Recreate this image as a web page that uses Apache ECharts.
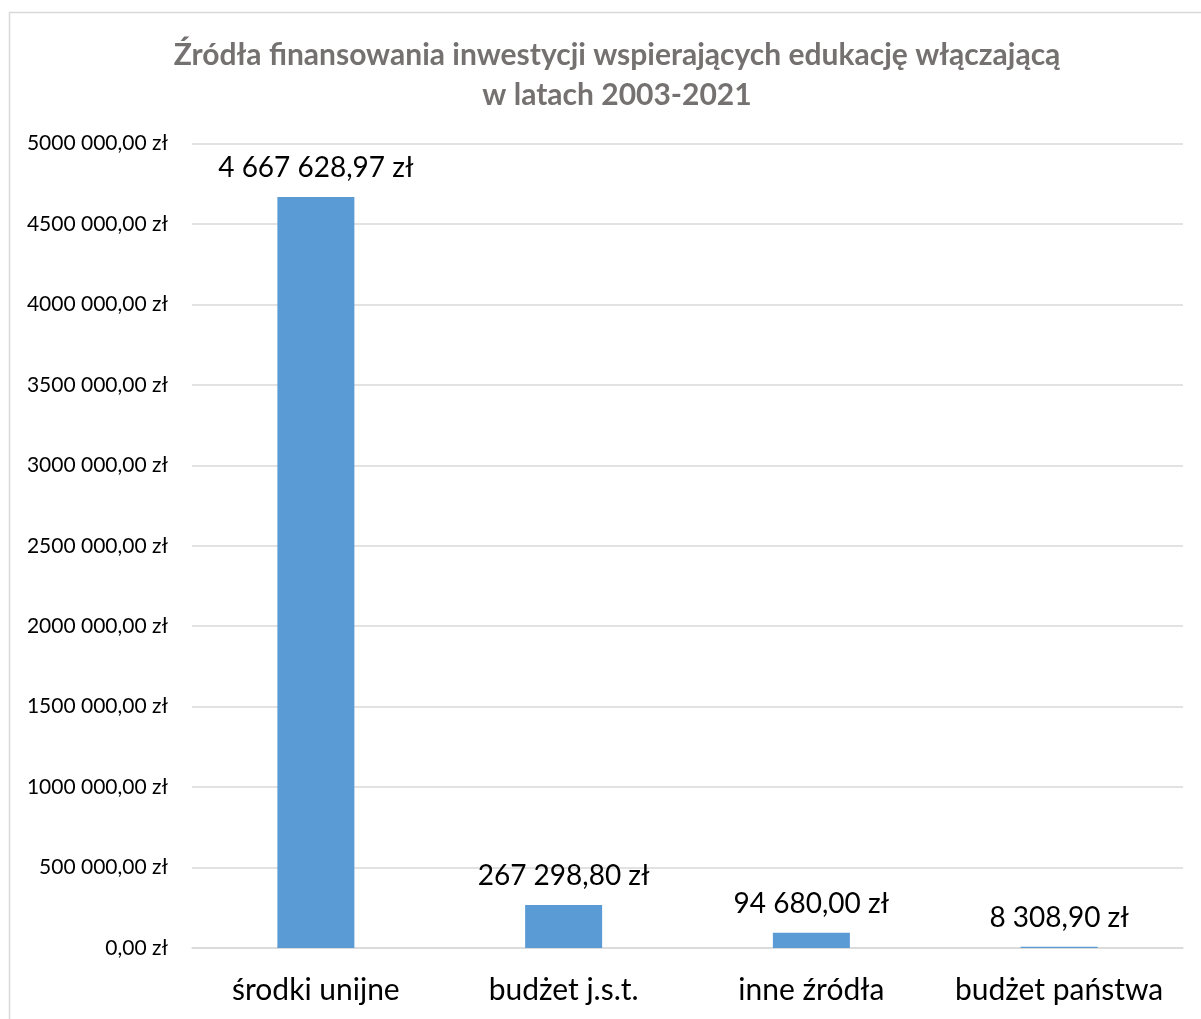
<!DOCTYPE html>
<html>
<head>
<meta charset="utf-8">
<script src="https://cdn.jsdelivr.net/npm/echarts@6/dist/echarts.min.js"></script>
<style>
  html, body { margin: 0; padding: 0; background: #fff; }
  #chart { width: 1201px; height: 1019px; }
</style>
</head>
<body>
<div id="chart"></div>
<script>
// kategorie i wartości
var categories = ['środki unijne', 'budżet j.s.t.', 'inne źródła', 'budżet państwa'];
var values = [4667628.97, 267298.80, 94680.00, 8308.90];
var valueLabels = ['4 667 628,97 zł', '267 298,80 zł', '94 680,00 zł', '8 308,90 zł'];
var tickLabels = ['0,00 zł', '500 000,00 zł', '1000 000,00 zł', '1500 000,00 zł', '2000 000,00 zł',
  '2500 000,00 zł', '3000 000,00 zł', '3500 000,00 zł', '4000 000,00 zł', '4500 000,00 zł', '5000 000,00 zł'];

var FONT = 'Lato, "Open Sans", sans-serif';

function loadChart(){
    var mychart = echarts.init(document.getElementById('chart'));
    var option = {
        backgroundColor: '#fff',
        animation: false,
        title: {
            text: 'Źródła finansowania inwestycji wspierających edukację włączającą\nw latach 2003-2021',
            left: 612,
            top: 30,
            textAlign: 'center',
            textStyle: {
                fontFamily: FONT,
                fontWeight: 'bold',
                fontSize: 30,
                lineHeight: 40,
                color: '#757171'
            }
        },
        graphic: [{
            type: 'rect',
            shape: { x: 9.5, y: 12.5, width: 1300, height: 1100 },
            style: { fill: 'none', stroke: '#d9d9d9', lineWidth: 1.5 },
            silent: true
        }],
        grid: { left: 192, right: 18, top: 143.5, bottom: 71 },
        xAxis: {
            type: 'category',
            data: categories,
            axisLine: { lineStyle: { color: '#d9d9d9', width: 1.5 } },
            axisTick: { show: false },
            axisLabel: {
                interval: 0,
                hideOverlap: false,
                fontFamily: FONT,
                fontSize: 30,
                color: '#000',
                margin: 27
            }
        },
        yAxis: {
            type: 'value',
            min: 0,
            max: 5000000,
            interval: 500000,
            axisLine: { show: false },
            axisTick: { show: false },
            splitLine: { lineStyle: { color: '#d9d9d9', width: 1.5 } },
            axisLabel: {
                fontFamily: FONT,
                fontSize: 21,
                color: '#000',
                margin: 24,
                formatter: function(v){
                    return tickLabels[Math.round(v / 500000)];
                }
            }
        },
        series: [{
            type: 'bar',
            data: values,
            barWidth: 77,
            itemStyle: { color: '#5b9bd5' },
            label: {
                show: true,
                position: 'top',
                distance: 15,
                fontFamily: FONT,
                fontSize: 28,
                color: '#000',
                formatter: function(p){
                    return valueLabels[p.dataIndex];
                }
            }
        }]
    };
    mychart.setOption(option);
}
loadChart();
</script>
</body>
</html>
